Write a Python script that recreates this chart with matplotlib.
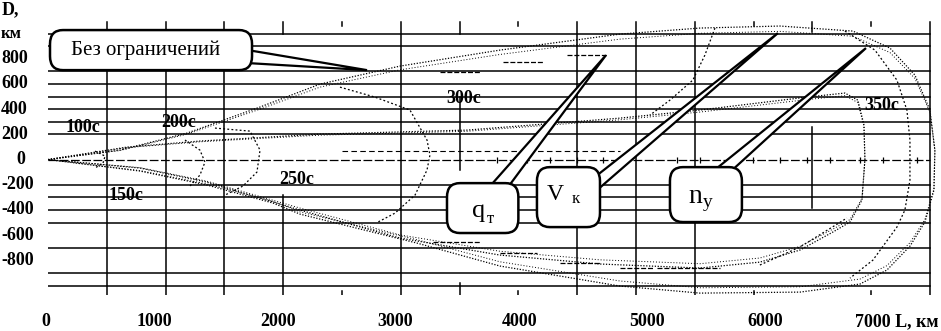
import matplotlib
matplotlib.use('Agg')
import matplotlib.pyplot as plt
import matplotlib.transforms as mtransforms
from matplotlib.patches import FancyBboxPatch, Polygon

plt.rcParams['font.family'] = ['Liberation Serif', 'DejaVu Serif']

# --- grid structure (km) ---
h_lines = [1000, 900, 700, 600, 500, 400, 300, 200, -200, -300, -400, -500, -700, -900, -1000]
v_full = [500, 1000, 1500, 3000, 4500, 5000, 5500, 7500]
v_part = [(2000, 1095, 1000), (2000, -280, -1075), (3500, 1095, 1000), (3500, 500, -85),
          (3500, -980, -1075), (6500, 1095, 1010), (6500, 260, -385)]
v_ticks = [2500, 4000, 6000, 7000]

# --- envelope: no restrictions (outer) ---
free_L = [0, 612, 1182, 1803, 2313, 2993, 3843, 4864, 5544, 6224, 6845, 7160, 7372, 7500, 7542,
          7534, 7457, 7330, 7134, 6905, 6395, 5544, 4864, 3843, 3138, 2143, 1913, 1352, 782, 0]
free_D = [0, 75, 210, 417, 599, 742, 869, 996, 1044, 1060, 1020, 885, 671, 393, 75,
          -242, -496, -687, -877, -988, -1052, -1060, -1004, -845, -663, -433, -345, -202, -91, 0]

# --- inner envelope ---
inner_L = [0, 672, 1292, 2313, 3563, 4864, 5544, 6454, 6777, 6887, 6939, 6947, 6922, 6820, 6675,
           6395, 6054, 5544, 4694, 3843, 2993, 2143, 1352, 782, 0]
inner_D = [0, 99, 147, 202, 234, 329, 393, 496, 528, 472, 274, 0, -321, -496, -575,
           -718, -814, -861, -829, -758, -623, -401, -179, -67, 0]

# --- isochrones ---
iso100_L = [400, 485, 468, 400]
iso100_D = [67, 28, -28, -67]
iso150_L = [1165, 1292, 1335, 1292, 1207]
iso150_D = [155, 75, -20, -123, -210]
iso200_L = [1420, 1718, 1803, 1777, 1658, 1505]
iso200_D = [250, 226, 75, -99, -210, -282]
iso250_L = [2483, 2780, 3078, 3223, 3248, 3223, 3121, 2951, 2806]
iso250_D = [575, 496, 393, 155, 36, -83, -282, -425, -496]
iso300a_L = [5672, 5586, 5484, 5289, 5119]
iso300a_D = [1044, 829, 631, 472, 353]
iso300b_L = [6054, 6395, 6794]
iso300b_D = [-837, -694, -464]
iso350_L = [6777, 7032, 7219, 7304, 7330, 7330, 7287, 7219, 7015, 6820]
iso350_D = [1020, 869, 631, 393, 155, -163, -401, -536, -798, -941]

# --- q_t limited envelope (dash pieces): L start, L end, D ---
qt_L0 = [3333, 3869, 4413, 3274, 3844, 4354, 4864, 5179]
qt_L1 = [3673, 4209, 4753, 3673, 4158, 4694, 5145, 5714]
qt_D = [694, 774, 829, -655, -742, -821, -861, -861]

# near-zero trajectory
zero_L = [0, 7500]
zero_marks = [3818, 4073, 4268, 4498, 4719, 5349, 5544, 5995, 6224, 6454, 6650, 6905, 7100, 7389]
upper_dash_L = [2500, 4860]

time_labels = ['100с', '150с', '200с', '250с', '300с', '350с']
time_L = [298, 663, 1114, 2117, 3538, 7092]
time_D = [258, -282, 298, -155, 488, 432]

y_ticks = [800, 600, 400, 200, 0, -200, -400, -600, -800]
x_labels = ['0', '1000', '2000', '3000', '4000', '5000', '6000']
x_label_L = [-15, 906, 1956, 2951, 4014, 5094, 6097]

fig = plt.figure(figsize=(9.41, 3.31), dpi=100)
ax = fig.add_axes([48 / 941, 36 / 331, 889 / 941, 274 / 331])
ax.set_xlim(0, 7560)
ax.set_ylim(-1075, 1100)
ax.axis('off')

lw_grid = 1.1
for d in h_lines:
    ax.plot([0, 7500], [d, d], color='black', lw=lw_grid, zorder=1)
for l in v_full:
    ax.plot([l, l], [-1075, 1095], color='black', lw=lw_grid, zorder=1)
for l, d0, d1 in v_part:
    ax.plot([l, l], [d0, d1], color='black', lw=lw_grid, zorder=1)
for l in v_ticks:
    ax.plot([l, l], [1095, 1060], color='black', lw=lw_grid, zorder=1)
    ax.plot([l, l], [-1040, -1075], color='black', lw=lw_grid, zorder=1)

dot = (0, (1, 1.3))
for L, D in [(free_L, free_D), (inner_L, inner_D)]:
    ax.plot(L, D, color='black', lw=0.9, ls=dot, zorder=2)
    ax.plot(L, [d * 0.96 for d in D], color='black', lw=0.7, ls=(0, (1, 2)), zorder=2)
for L, D in [(iso100_L, iso100_D), (iso150_L, iso150_D), (iso200_L, iso200_D),
             (iso250_L, iso250_D), (iso300a_L, iso300a_D), (iso300b_L, iso300b_D),
             (iso350_L, iso350_D)]:
    ax.plot(L, D, color='black', lw=0.9, ls=(0, (1.5, 1.8)), zorder=2)

for l0, l1, d in zip(qt_L0, qt_L1, qt_D):
    ax.plot([l0, l1], [d, d], color='black', lw=0.9, ls=(0, (4, 1.5)), zorder=2)

ax.plot(zero_L, [0, 0], color='black', lw=0.9, ls=(0, (7, 2)), zorder=2)
ax.plot(upper_dash_L, [70, 70], color='black', lw=0.8, ls=(0, (5, 3)), zorder=2)
ax.plot(zero_marks, [0] * len(zero_marks), ls='none', marker='|', ms=5, mew=0.9,
        color='black', zorder=2)

# callouts
def callout(x0, x1, y0, y1, base1, base2, tip):
    ax.add_patch(Polygon([base1, tip, base2], closed=True, facecolor='white',
                         edgecolor='black', lw=1.6, joinstyle='miter', zorder=4))
    ax.add_patch(FancyBboxPatch((x0, y0), x1 - x0, y1 - y0,
                                boxstyle='round,pad=0,rounding_size=110',
                                facecolor='white', edgecolor='black', lw=1.8, zorder=5))

callout(17, 1735, 710, 1028, (1700, 869), (1700, 766), (2713, 710))
callout(3393, 4000, -583, -187, (3741, -230), (3903, -230), (4745, 829))
callout(4158, 4694, -536, -60, (4650, -139), (4650, -258), (6207, 1004))
callout(5289, 5901, -496, -60, (5646, -100), (5799, -100), (6956, 885))

ax.text(833, 829, 'Без ограничений', fontsize=15, ha='center', va='baseline', zorder=6)
ax.text(3605, -456, 'q', fontsize=19, ha='left', va='baseline', zorder=6)
ax.text(3733, -504, 'т', fontsize=12, ha='left', va='baseline', zorder=6)
ax.text(4243, -321, 'V', fontsize=17, ha='left', va='baseline', zorder=6)
ax.text(4456, -345, 'к', fontsize=12, ha='left', va='baseline', zorder=6)
ax.text(5442, -345, 'n', fontsize=20, ha='left', va='baseline', zorder=6)
ax.text(5570, -377, 'y', fontsize=14, ha='left', va='baseline', zorder=6)

for t, l, d in zip(time_labels, time_L, time_D):
    ax.text(l, d, t, fontsize=13, fontweight='bold', ha='center', va='center', zorder=3)

# axis labels
ty = mtransforms.blended_transform_factory(fig.transFigure, ax.transData)
for v in y_ticks:
    if v == 0:
        fig.text(21 / 941, v, '0', transform=ty, fontsize=13, fontweight='bold',
                 ha='center', va='center')
    else:
        fig.text(1 / 941, v, str(v), transform=ty, fontsize=13, fontweight='bold',
                 ha='left', va='center')
fig.text(1 / 941, 1000, 'км', transform=ty, fontsize=12, fontweight='bold', ha='left', va='center')
fig.text(2 / 941, 1 - 10 / 331, 'D,', fontsize=13, fontweight='bold', ha='left', va='center')

tx = mtransforms.blended_transform_factory(ax.transData, fig.transFigure)
for t, l in zip(x_labels, x_label_L):
    fig.text(l, 9 / 331, t, transform=tx, fontsize=13, fontweight='bold', ha='center', va='center')
fig.text(6862, 9 / 331, '7000 L, км', transform=tx, fontsize=13, fontweight='bold',
         ha='left', va='center')

fig.savefig('out.png', dpi=100, facecolor='white')
